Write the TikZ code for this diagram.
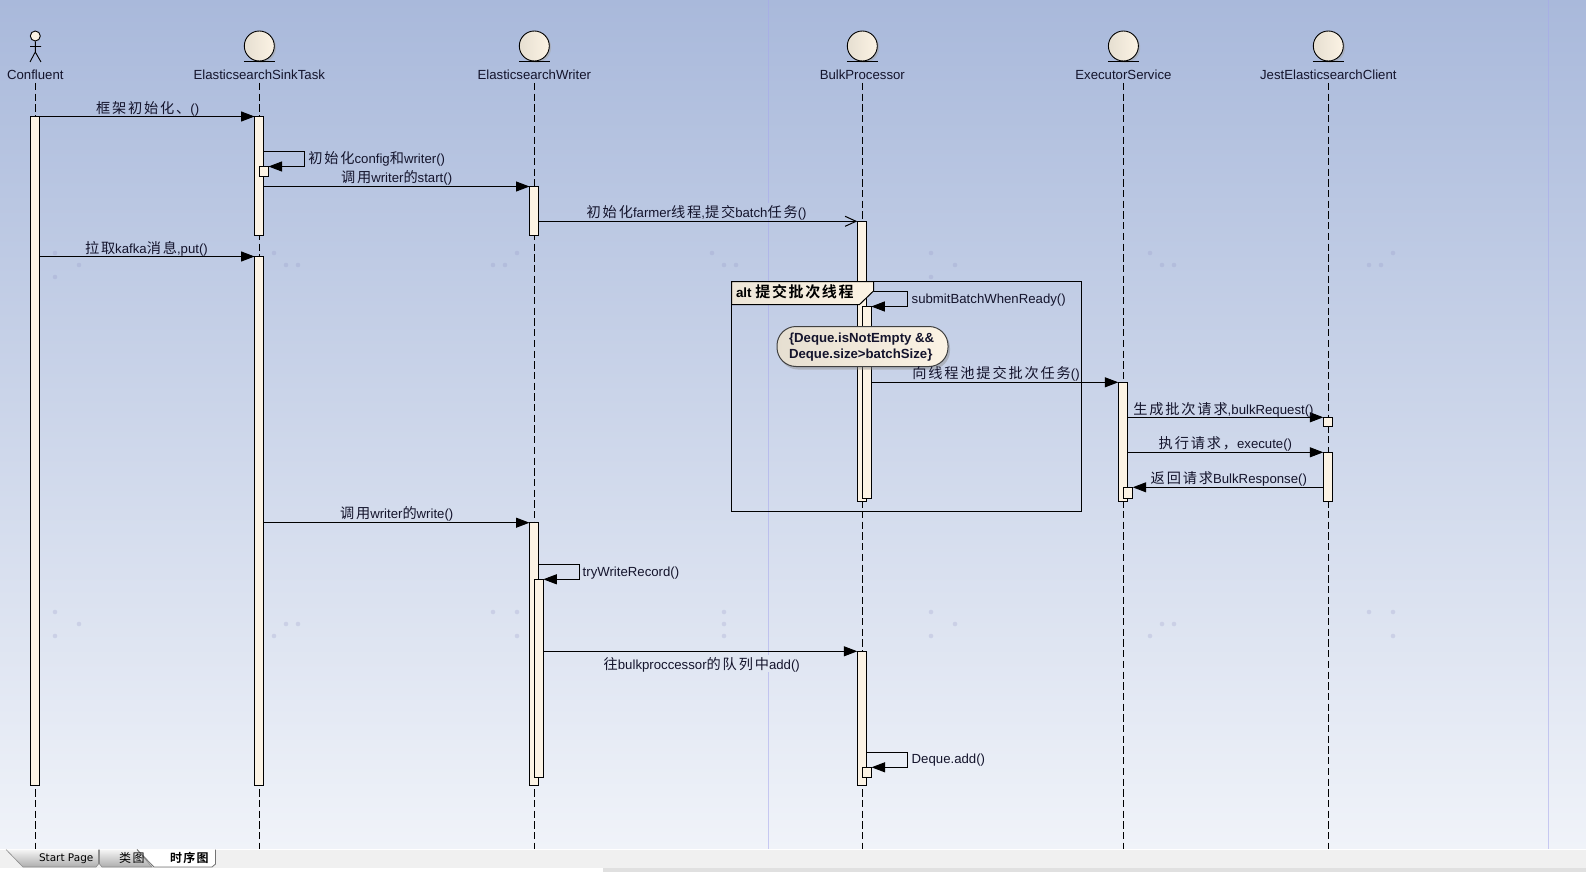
\documentclass[tikz,border=0pt]{standalone}
\usepackage{fontspec}
\setmainfont{Liberation Sans}
\newfontfamily\cjk[LetterSpace=13]{Noto Sans CJK SC}
\newfontfamily\cjkb[LetterSpace=11,BoldFont={Noto Sans CJK SC Bold}]{Noto Sans CJK SC}
\newfontfamily\tabfont{DejaVu Sans}
\usetikzlibrary{arrows.meta}
\newcommand{\zh}[1]{{\cjk\fontsize{14.2}{16}\selectfont #1}}
\definecolor{cream}{HTML}{FCF3E4}
\definecolor{creamd}{HTML}{E6DFD1}
\definecolor{ink}{HTML}{14142C}
\tikzset{
  lbl/.style={inner sep=0pt,outer sep=0pt,text=ink,font=\fontsize{13.2}{15}\selectfont,anchor=west,yshift=-1pt},
  name label/.style={lbl,anchor=center,text height=9pt,text depth=3pt,yshift=-2pt},
  life/.style={line width=1pt,draw=black,dash pattern=on 7.3pt off 3.4pt},
  actbox/.style={draw=black,line width=1pt,fill=cream,inner sep=0pt,outer sep=0pt,anchor=north west,rectangle},
  msg/.style={line width=1pt,draw=black,-{Triangle[length=13.5pt,width=10pt]}},
  openmsg/.style={line width=1pt,draw=black,-{Straight Barb[length=11pt,width=10pt]}},
  entity/.style={circle,draw=black,line width=.9pt,minimum size=30pt,inner sep=0pt,left color=creamd,right color=cream},
  faint/.style={draw=black!20!blue!35!white,line width=.8pt,draw opacity=.55},
  dot/.style={fill=black!55!blue!45!white,fill opacity=.22}
}
\newcommand{\act}[5]{% name x1 y1 x2 y2
  \pgfmathsetmacro{\actw}{#4-#2}\pgfmathsetmacro{\acth}{#5-#3}
  \node[actbox,minimum width=\actw pt,minimum height=\acth pt] (#1) at (#2,#3) {};}
\begin{document}
\begin{tikzpicture}[x=1pt,y=-1pt]
\useasboundingbox (0,0) rectangle (1586,872);
% background
\fill[white] (0,0) rectangle (1586,872);
\shade[top color={rgb,255:red,169;green,185;blue,219},bottom color={rgb,255:red,240;green,243;blue,249}] (0,0) rectangle (1586,849);
% tab bar
\fill[white] (0,849) rectangle (1586,850);
\fill[black!6] (0,850) rectangle (1586,868);
\fill[black!12] (603,868) rectangle (1586,872);
% faint vertical lines
\draw[faint] (768.5,0) -- (768.5,203);
\draw[faint] (768.5,219) -- (768.5,655);
\draw[faint] (768.5,672) -- (768.5,849);
\draw[faint] (1548.3,0) -- (1548.3,849);
% faint dots
\foreach \px/\py in {55/253,274/253,517/253,712/253,931/253,1150/253,1393/253,
  79/265,286/265,298/265,493/265,505/265,724/265,736/265,955/265,1162/265,1174/265,1369/265,1381/265,
  55/277,931/277,
  55/612,493/612,517/612,724/612,931/612,1369/612,1393/612,
  79/624,286/624,298/624,724/624,955/624,1162/624,1174/624,
  55/636,274/636,517/636,724/636,931/636,1150/636,1393/636}
  \fill[dot] (\px,\py) circle (2.3pt);
% heads
\foreach \ex in {259.3,534.3,862.3,1123.4,1328.3}{
  \fill[black!35,fill opacity=.55] (\ex+1.5,47.5) circle (15.3pt);
}
\node[entity] (e1) at (259.3,46) {};
\node[entity] (e2) at (534.3,46) {};
\node[entity] (e3) at (862.3,46) {};
\node[entity] (e4) at (1123.4,46) {};
\node[entity] (e5) at (1328.3,46) {};
\draw[line width=1pt] (243.8,61.5) -- (274.8,61.5);
\draw[line width=1pt] (518.8,61.5) -- (549.8,61.5);
\draw[line width=1pt] (846.8,61.5) -- (877.8,61.5);
\draw[line width=1pt] (1107.9,61.5) -- (1138.9,61.5);
\draw[line width=1pt] (1312.8,61.5) -- (1343.8,61.5);
% actor
\node[circle,draw=black,line width=.9pt,minimum size=10pt,inner sep=0pt,fill=cream] (head) at (35.3,36) {};
\coordinate (hip) at (35.3,52);
\coordinate (armL) at (30,46.5);
\coordinate (armR) at (41,46.5);
\coordinate (legL) at (30,62);
\coordinate (legR) at (41,62);
\draw[line width=.9pt] (head.south) -- (hip) (armL) -- (armR) (legL) -- (hip) -- (legR);
% names
\node[name label] (n0) at (35.3,74) {Confluent};
\node[name label] (n1) at (259.3,74) {ElasticsearchSinkTask};
\node[name label] (n2) at (534.3,74) {ElasticsearchWriter};
\node[name label] (n3) at (862.3,74) {BulkProcessor};
\node[name label] (n4) at (1123.4,74) {ExecutorService};
\node[name label] (n5) at (1328.3,74) {JestElasticsearchClient};
% lifelines
\coordinate (z0) at (35.3,849);
\coordinate (z1) at (259.3,849);
\coordinate (z2) at (534.3,849);
\coordinate (z3) at (862.3,849);
\coordinate (z4) at (1123.4,849);
\coordinate (z5) at (1328.3,849);
\foreach \k in {0,...,5}{ \draw[life] (n\k.south) -- (z\k); }
% activations
\act{c1}{30.5}{116.5}{39.5}{785.3}
\act{s1}{254.6}{116.5}{263.6}{235.5}
\act{s2}{254.6}{256.5}{263.6}{785.3}
\act{s3}{259.5}{166.5}{268.5}{176.5}
\act{w1}{529.5}{186.5}{538.5}{235.5}
\act{w2}{529.5}{522.7}{538.5}{785.3}
\act{w3}{534.3}{579.3}{543.3}{777.3}
\act{b1}{857.3}{221.3}{866.3}{501.5}
\act{b2}{862.3}{306.5}{871.3}{498.5}
\act{b3}{857.3}{651.3}{866.3}{785.3}
\act{b4}{862.3}{767.3}{871.5}{777.3}
\act{x1}{1118.3}{382.3}{1127.6}{501.3}
\act{x2}{1123.3}{487.3}{1132.7}{498.3}
\act{j1}{1323.3}{417.3}{1332.7}{426.7}
\act{j2}{1323.3}{452.3}{1332.7}{501.3}
% messages
\draw[msg] (c1.north east) -- (s1.north west);
\draw[msg] (c1.east |- s2.north) -- (s2.north west);
\draw[msg] (s1.east |- w1.north) -- (w1.north west);
\draw[openmsg] (w1.east |- b1.north) -- (b1.north west);
\draw[msg] (s2.east |- w2.north) -- (w2.north west);
\draw[msg] (w3.east |- b3.north) -- (b3.north west);
\draw[msg] (b2.east |- x1.north) -- (x1.north west);
\draw[msg] (x1.east |- j1.north) -- (j1.north west);
\draw[msg] (x1.east |- j2.north) -- (j2.north west);
\draw[msg] (j2.west |- x2.north) -- (x2.north east);
% self messages
\coordinate (q1) at (263.6,151.5);
\coordinate (r1) at (304.5,151.5);
\draw[msg] (q1) -- (r1) -- (r1 |- s3.north) -- (s3.north east);
\coordinate (q2) at (538.3,564.3);
\coordinate (r2) at (579.7,564.3);
\draw[msg] (q2) -- (r2) -- (r2 |- w3.north) -- (w3.north east);
\coordinate (q3) at (866.3,291.5);
\coordinate (r3) at (907.5,291.5);
\draw[msg] (q3) -- (r3) -- (r3 |- b2.north) -- (b2.north east);
\coordinate (q4) at (866.3,752.3);
\coordinate (r4) at (907.7,752.3);
\draw[msg] (q4) -- (r4) -- (r4 |- b4.north) -- (b4.north east);
% frame
\node[draw=black,line width=1pt,inner sep=0pt,outer sep=0pt,anchor=north west,minimum width=350pt,minimum height=230pt] (frame) at (731.5,281.5) {};
\draw[line width=1pt,left color=creamd!70!cream,right color=cream] (731.5,281.5) -- (873.5,281.5) -- (873.5,291) -- (859.5,304.5) -- (731.5,304.5) -- cycle;
\node[lbl,font=\fontsize{13.4}{15}\bfseries\selectfont,text=black] (alt) at (736,290.5) {alt {\cjkb\fontsize{15}{16}\selectfont\bfseries 提交批次线程}};
% guard
\fill[black!45,fill opacity=.45,rounded corners=19pt] (779,329) rectangle (950,369.5);
\node[draw=black!75,line width=1pt,rounded corners=19pt,left color=creamd,right color=cream,minimum width=171pt,minimum height=40pt,inner sep=0pt,anchor=north west] (guard) at (776.5,326) {};
\node[lbl,font=\fontsize{13.2}{16}\bfseries\selectfont,align=left,text=ink] (gtxt) at (789,346.5) {\{Deque.isNotEmpty \&\&\\Deque.size>batchSize\}};
% labels
\node[lbl] (l1) at (96,108) {\zh{框架初始化、}()};
\node[lbl] (l2) at (308.3,158) {\zh{初始化}config\zh{和}writer()};
\node[lbl] (l3) at (341,177) {\zh{调用}writer\zh{的}start()};
\node[lbl] (l4) at (586.7,211.5) {\zh{初始化}farmer\zh{线程},\zh{提交}batch\zh{任务}()};
\node[lbl] (l5) at (85,248) {\zh{拉取}kafka\zh{消息},put()};
\node[lbl] (l6) at (911.7,299) {submitBatchWhenReady()};
\node[lbl] (l7) at (912.3,373) {\zh{向线程池提交批次任务}()};
\node[lbl] (l8) at (1133.3,409) {\zh{生成批次请求},bulkRequest()};
\node[lbl] (l9) at (1158.7,443) {\zh{执行请求，}execute()};
\node[lbl] (l10) at (1150.7,478) {\zh{返回请求}BulkResponse()};
\node[lbl] (l11) at (340,513) {\zh{调用}writer\zh{的}write()};
\node[lbl] (l12) at (582.7,571.7) {tryWriteRecord()};
\node[lbl] (l13) at (603.7,664) {\zh{往}bulkproccessor\zh{的队列中}add()};
\node[lbl] (l14) at (911.7,759.5) {Deque.add()};
% tabs
\shade[top color=black!4,bottom color=black!32,draw=black!45,line width=.6pt] (6,849.5) -- (23,867) -- (96,867) -- (98.5,864) -- (98.5,849.5);
\shade[top color=black!4,bottom color=black!32,draw=black!45,line width=.6pt] (99.5,849.5) -- (99.5,864) -- (102,867) -- (152,867) -- (137,849.5);
\fill[white] (137,849.5) -- (154,867) -- (212,867) -- (215.5,864) -- (215.5,849.5) -- cycle;
\draw[black!55,line width=.8pt] (137,849.5) -- (154,867) -- (212,867) -- (215.5,864) -- (215.5,849.5);
\node[lbl,yshift=1pt,text=black,font=\tabfont\fontsize{10.5}{12}\selectfont] (t1) at (39,858.5) {Start Page};
\node[lbl,yshift=1pt,text=black] (t2) at (119,858) {\cjk\fontsize{12}{14}\selectfont 类图};
\node[lbl,yshift=1pt,text=black] (t3) at (170,858) {\cjkb\fontsize{12}{14}\selectfont\bfseries 时序图};
\end{tikzpicture}
\end{document}
